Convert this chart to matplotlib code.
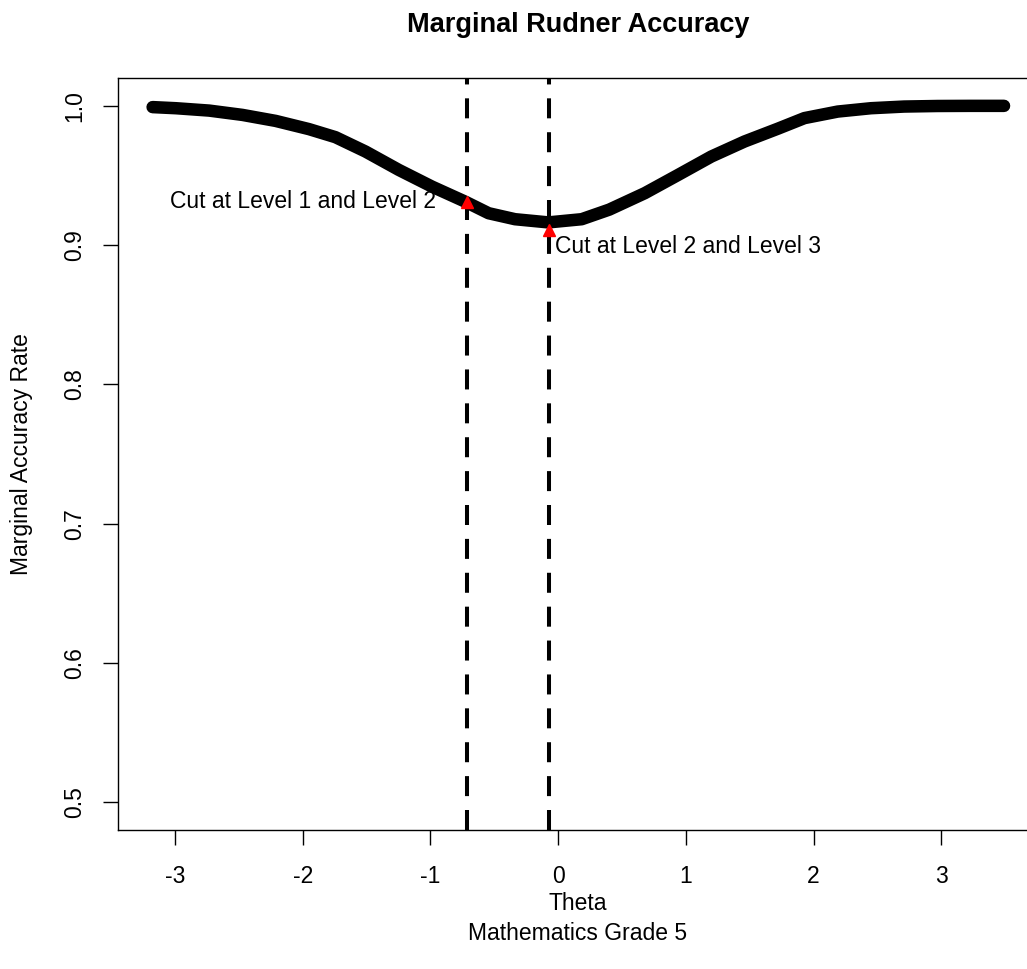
import matplotlib.pyplot as plt
import numpy as np

plt.rcParams['font.family'] = ['Liberation Sans', 'DejaVu Sans']
plt.rcParams['lines.scale_dashes'] = False

# values
theta = [-3.176, -2.994, -2.733, -2.473, -2.213, -1.952, -1.744, -1.509, -1.248,
         -0.988, -0.728, -0.545, -0.338, -0.077, 0.184, 0.400, 0.678, 0.939,
         1.199, 1.459, 1.720, 1.928, 2.189, 2.449, 2.709, 2.970, 3.230, 3.491]
accuracy = [0.9991, 0.9983, 0.9966, 0.9935, 0.9892, 0.9833, 0.9775, 0.9672, 0.9540,
            0.9420, 0.9312, 0.9229, 0.9186, 0.9163, 0.9186, 0.9255, 0.9373, 0.9504,
            0.9636, 0.9744, 0.9836, 0.9912, 0.9959, 0.9983, 0.9995, 0.9999, 1.0000, 1.0000]

cut_theta = [-0.715, -0.074]
cut_acc = [0.931, 0.911]
cut_labels = ["Cut at Level 1 and Level 2", "Cut at Level 2 and Level 3"]

fig = plt.figure(figsize=(10.27, 9.69), dpi=100)
ax = fig.add_axes([118/1027, 1 - 830/969, 920/1027, 752/969])

ax.plot(theta, accuracy, color='black', lw=9, solid_capstyle='round',
        solid_joinstyle='round', zorder=2)
for c in cut_theta:
    ax.axvline(c, ymin=0, ymax=1, color='black', lw=2.9, dashes=(14.4, 10), zorder=3)
ax.plot(cut_theta, cut_acc, '^', color='red', ms=9, mec='red', zorder=4)

ax.text(cut_theta[0] - 0.24, cut_acc[0], cut_labels[0], ha='right', va='center', fontsize=16.5)
ax.text(cut_theta[1] + 0.045, cut_acc[1] - 0.004, cut_labels[1], ha='left', va='top', fontsize=16.5)

ax.set_xlim(-3.447, 3.757)
ax.set_ylim(0.48, 1.02)
ax.set_xticks([-3, -2, -1, 0, 1, 2, 3])
ax.set_xticklabels(['-3', '-2', '-1', '0', '1', '2', '3'])
ax.set_yticks([0.5, 0.6, 0.7, 0.8, 0.9, 1.0])
ax.set_yticklabels(['0.5', '0.6', '0.7', '0.8', '0.9', '1.0'], rotation=90, va='center')
ax.tick_params(axis='both', length=11, width=1, labelsize=16.5)
ax.tick_params(axis='x', pad=14)
ax.tick_params(axis='y', pad=12)
for s in ax.spines.values():
    s.set_linewidth(1)

fig.text(578/1027, 1 - 25/969, "Marginal Rudner Accuracy", ha='center', va='center',
         fontsize=19.5, fontweight='bold')
fig.text(578/1027, 1 - 903/969, "Theta", ha='center', va='center', fontsize=16.5)
fig.text(578/1027, 1 - 933/969, "Mathematics Grade 5", ha='center', va='center', fontsize=16.5)
fig.text(22/1027, 1 - 454/969, "Marginal Accuracy Rate", ha='center', va='center',
         rotation=90, fontsize=16.5)

fig.savefig('out.png', dpi=100)
